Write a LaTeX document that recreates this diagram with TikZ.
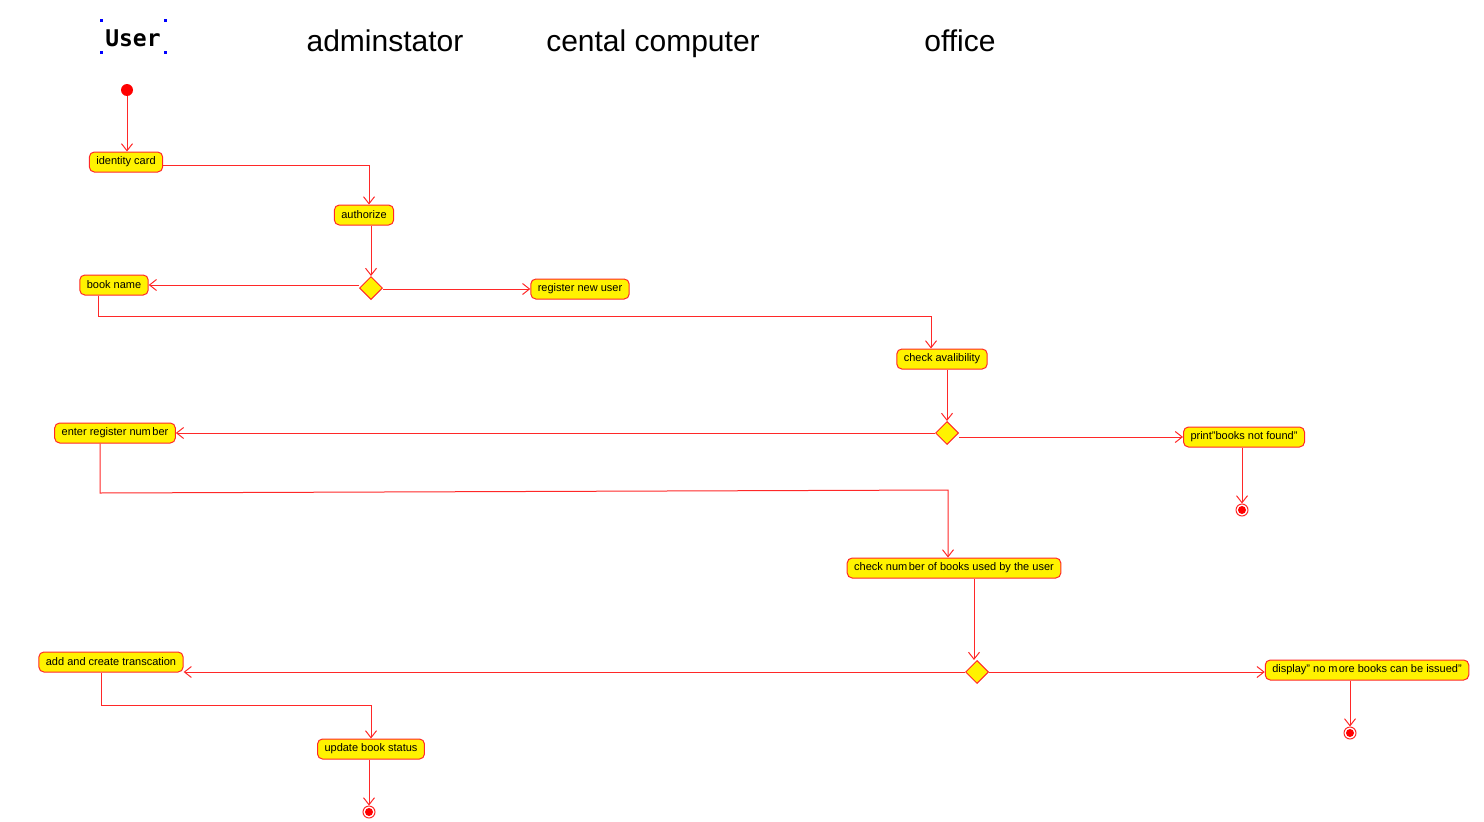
\documentclass[tikz,border=0pt]{standalone}
\usepackage{fontspec}
\setmainfont{Liberation Sans}
\newfontfamily\pixmono{DejaVu Sans Mono}
\usetikzlibrary{shapes.geometric,arrows.meta,calc}
\definecolor{lnred}{RGB}{255,40,40}
\tikzset{
  act/.style={draw=lnred,fill=yellow,rounded corners=5pt,line width=1pt,
    minimum height=20pt,inner xsep=7pt,inner ysep=0pt,font=\fontsize{11}{12}\selectfont},
  dec/.style={diamond,draw=lnred,fill=yellow,line width=1pt,minimum size=23pt,inner sep=0pt,aspect=1},
  flow/.style={draw=lnred,line width=1pt,-{Straight Barb[length=7pt,width=11pt]}},
  hdr/.style={anchor=base,inner sep=0pt,font=\fontsize{30}{32}\selectfont},
  startst/.style={circle,fill=red,minimum size=12pt,inner sep=0pt},
  endst/.style={circle,draw=lnred,line width=1pt,minimum size=12pt,inner sep=0pt,
    path picture={\fill[red] (path picture bounding box.center) circle (4pt);}},
  handle/.style={fill=blue,minimum size=3pt,inner sep=0pt}
}
\begin{document}
\begin{tikzpicture}[x=1pt,y=-1pt]
\useasboundingbox (0,0) rectangle (1484,822);
% headers
\node[inner sep=0pt,font=\pixmono\bfseries\fontsize{23}{25}\selectfont] (huser) at (133,38) {User};
\node[handle] (h1) at (101,20) {};
\node[handle] (h2) at (165,20) {};
\node[handle] (h3) at (101,52) {};
\node[handle] (h4) at (165,52) {};
\node[hdr] (hadm) at (385,51) {adminstator};
\node[hdr] (hcc) at (653,51) {cental computer};
\node[hdr] (hoff) at (960,51) {office};
% nodes
\node[startst] (init) at (127,90) {};
\node[act] (ic) at (126,162) {identity card};
\node[act] (auth) at (364,215) {authorize};
\node[dec] (d1) at (371,288) {};
\node[act] (bn) at (114,285) {book name};
\node[act] (reg) at (580,289) {register new user};
\node[act] (ca) at (942,359) {check avalibility};
\node[dec] (d2) at (947,433) {};
\node[act] (er) at (115,433) {enter register num\kern1.5pt ber};
\node[act] (pr) at (1244,437) {print"books not found"};
\node[endst] (f1) at (1242,510) {};
\node[act] (cn) at (954,568) {check num\kern1.5pt ber of books used by the user};
\node[dec] (d3) at (977,672) {};
\node[act] (ac) at (111,662) {add and create transcation};
\node[act] (dp) at (1367,670) {display" no m\kern1.2pt ore books can be issued"};
\node[act] (ub) at (371,749) {update book status};
\node[endst] (f2) at (369,812) {};
\node[endst] (f3) at (1350,733) {};
\coordinate (k1) at (98,316);
\coordinate (k2) at (100,493);
\coordinate (k3) at (948,490);
\coordinate (k4) at (101,705);
% edges
\draw[flow] (init) -- (init |- ic.north);
\draw[flow] ([yshift=-3pt]ic.east) -| ([xshift=5pt]auth.north);
\draw[flow] (auth.south -| d1) -- (d1.north);
\draw[flow] ([yshift=3pt]d1.west) -- ([yshift=3pt]d1.west -| bn.east);
\draw[flow] ([yshift=-1pt]d1.east) -- ([yshift=-1pt]d1.east -| reg.west);
\draw[flow] (k1 |- bn.south) -- (k1) -| ([xshift=-11pt]ca.north);
\draw[flow] (ca.south -| d2) -- (d2.north);
\draw[flow] (d2.west) -- (d2.west -| er.east);
\draw[flow] ([yshift=-4pt]d2.east) -- ([yshift=-4pt]d2.east -| pr.west);
\draw[flow] (pr.south -| f1) -- (f1);
\draw[flow] (k2 |- er.south) -- (k2) -- (k3) -- (k3 |- cn.north);
\draw[flow] ([xshift=-3pt]d3.north |- cn.south) -- ([xshift=-3pt]d3.north);
\draw[flow] (d3.west) -- (d3.west -| ac.east);
\draw[flow] (d3.east) -- (d3.east -| dp.west);
\draw[flow] (dp.south -| f3) -- (f3);
\draw[flow] (k4 |- ac.south) -- (k4) -| (ub.north);
\draw[flow] (ub.south -| f2) -- (f2);
\end{tikzpicture}
\end{document}
